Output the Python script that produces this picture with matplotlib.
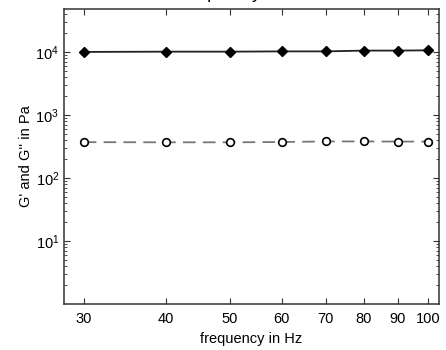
import matplotlib
matplotlib.use('Agg')
import matplotlib.pyplot as plt
from matplotlib.ticker import FixedLocator, FixedFormatter, LogLocator, NullLocator

plt.rcParams['font.family'] = ['Liberation Sans', 'DejaVu Sans']
plt.rcParams['mathtext.fontset'] = 'custom'
plt.rcParams['mathtext.rm'] = 'Liberation Sans'

# data
freq = [30, 40, 50, 60, 70, 80, 90, 100]
g_storage = [1.00e4, 1.01e4, 1.01e4, 1.02e4, 1.02e4, 1.05e4, 1.05e4, 1.06e4]
g_loss = [370, 368, 368, 372, 380, 380, 378, 378]
x_ticks = [30, 40, 50, 60, 70, 80, 90, 100]

fig = plt.figure(figsize=(4.46, 3.5), dpi=100)
ax = fig.add_axes([64/446, 46/350, 375/446, 295/350])

ax.plot(freq, g_storage, color='#222222', linewidth=1.3, marker='D',
        markersize=5, markerfacecolor='black', markeredgecolor='black')
ax.plot(freq, g_loss, color='#777777', linewidth=1.3, dashes=(7, 4), marker='o',
        markersize=5.5, markerfacecolor='white', markeredgecolor='black',
        markeredgewidth=1.2)

ax.set_xscale('log')
ax.set_yscale('log')
ax.set_xlim(28, 104)
ax.set_ylim(1, 4.8e4)

ax.xaxis.set_major_locator(FixedLocator(x_ticks))
ax.xaxis.set_major_formatter(FixedFormatter([str(t) for t in x_ticks]))
ax.xaxis.set_minor_locator(NullLocator())
ax.yaxis.set_major_locator(FixedLocator([10, 100, 1000, 10000]))
ax.yaxis.set_minor_locator(LogLocator(base=10, subs=range(2, 10), numticks=20))

ax.tick_params(which='both', direction='in', top=True, right=True,
               labelsize=10.5, color='#333333')
ax.tick_params(which='major', length=4, width=0.8)
ax.tick_params(which='minor', length=2, width=0.6)
ax.tick_params(axis='x', pad=6)

for s in ax.spines.values():
    s.set_color('#333333')
    s.set_linewidth(1.1)

ax.set_xlabel('frequency in Hz', fontsize=10.5, labelpad=4)
ax.set_ylabel("G' and G'' in Pa", fontsize=10.5, labelpad=2)

# title mostly cut off by the top edge
fig.text(180/446, 1 + 1.5/350, 'frequency', fontsize=13.5, va='baseline', ha='left')

fig.savefig('out.png', dpi=100)
